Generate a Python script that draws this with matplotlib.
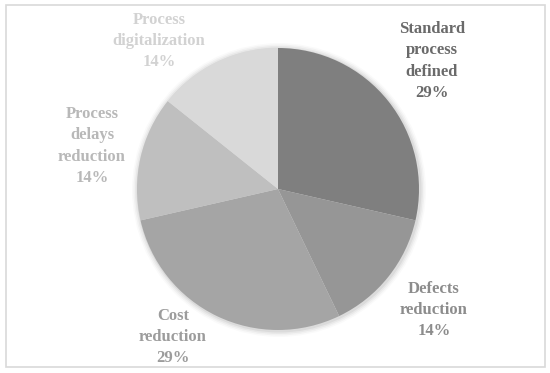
import matplotlib
matplotlib.use("Agg")
import matplotlib.pyplot as plt
import numpy as np
from matplotlib.patches import Rectangle, Circle

categories = ["Standard\nprocess\ndefined", "Defects\nreduction", "Cost\nreduction",
              "Process\ndelays\nreduction", "Process\ndigitalization"]
values = [2, 1, 2, 1, 1]
pct_labels = ["29%", "14%", "29%", "14%", "14%"]
colors = ["#7f7f7f", "#969696", "#a5a5a5", "#bfbfbf", "#d9d9d9"]
text_colors = ["#6a6a6a", "#8c8c8c", "#9c9c9c", "#b8b8b8", "#d2d2d2"]

# layout: label centres (pixels)
label_pos = [(432, 312), (434, 63), (173, 36), (92, 227), (159, 332)]

W, H = 550, 373
fig = plt.figure(figsize=(5.5, 3.73), dpi=100)
ax = fig.add_axes([0, 0, 1, 1])

cx, cy, R = 278, 184, 141
# soft shadow
for i, a in enumerate([0.05, 0.04, 0.03, 0.02]):
    ax.add_patch(Circle((cx + 1, cy - 1), R + 1.5 + i * 1.5, color="#000000", alpha=a, lw=0, zorder=1))

ax.pie(values, colors=colors, startangle=90, counterclock=False, radius=R,
       center=(cx, cy), frame=True, wedgeprops=dict(linewidth=0, zorder=2))
ax.set_xlim(0, W)
ax.set_ylim(0, H)
ax.set_aspect("auto")
ax.axis("off")

for lab, pct, (x, y), c in zip(categories, pct_labels, label_pos, text_colors):
    ax.text(x, y, lab + "\n" + pct, ha="center", va="center", color=c,
            fontsize=12, fontweight="bold", family="Liberation Serif",
            linespacing=1.42, zorder=5)

ax.add_patch(Rectangle((6, 6), 539, 362, fill=False, edgecolor="#d9d9d9", lw=1.2, zorder=6))

fig.savefig("out.png", dpi=100)
